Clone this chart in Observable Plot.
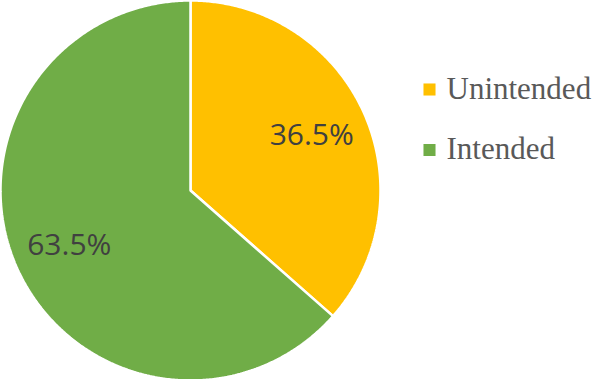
<!DOCTYPE html>
<html>
<head>
<meta charset="utf-8">
<script src="https://cdn.jsdelivr.net/npm/d3@7"></script>
<script src="https://cdn.jsdelivr.net/npm/@observablehq/plot@0.6"></script>
<style>
  html, body { margin: 0; padding: 0; background: #fff; }
  #chart svg { overflow: visible; }
  g[aria-label="legend-text"], g[aria-label="legend-text"] text { font-family: "Liberation Serif", "Times New Roman", serif !important; }
</style>
</head>
<body>
<div id="chart"></div>
<script>
const categories = ["Unintended", "Intended"];
const shares = [36.5, 63.5];
const colors = ["#FFC000", "#70AD47"];

const total = d3.sum(shares);
let acc = 0;
const slices = categories.map((c, i) => {
  const a0 = acc / total * 2 * Math.PI;
  acc += shares[i];
  const a1 = acc / total * 2 * Math.PI;
  return {c, v: shares[i], a0, a1, mid: (a0 + a1) / 2};
});

const points = [];
for (const s of slices) {
  points.push({c: s.c, x: 0, y: 0});
  const n = Math.max(2, Math.ceil((s.a1 - s.a0) / (Math.PI / 360)));
  for (let k = 0; k <= n; k++) {
    const a = s.a0 + (s.a1 - s.a0) * k / n;
    points.push({c: s.c, x: Math.sin(a), y: Math.cos(a)});
  }
}

const chart = Plot.plot({
  width: 594,
  height: 379,
  marginLeft: 0,
  marginRight: 214,
  marginTop: 0,
  marginBottom: 0,
  x: {domain: [-1, 1], range: [0, 380], axis: null},
  y: {domain: [-1, 1], range: [380, 0], axis: null},
  color: {domain: categories, range: colors},
  marks: [
    Plot.line(points, {x: "x", y: "y", z: "c", fill: "c", stroke: "white", strokeWidth: 2.5, strokeLinejoin: "miter", curve: "linear-closed"}),
    Plot.text(slices, {
      x: d => 0.7 * Math.sin(d.mid),
      y: d => 0.7 * Math.cos(d.mid),
      text: d => d.v.toFixed(1) + "%",
      fontSize: 30,
      fontFamily: "Open Sans",
      fill: "#404040"
    }),
    ...categories.map((c, i) => Plot.dot([c], {
      frameAnchor: "top-left", dx: 429, dy: 89 + 60.5 * i,
      symbol: "square", r: 6.8, fill: d => d, stroke: null
    })),
    ...categories.map((c, i) => Plot.text([c], {
      frameAnchor: "top-left", dx: 446, dy: 98 + 60 * i,
      text: d => d, textAnchor: "start", lineAnchor: "bottom",
      fontSize: 31, fontFamily: "Liberation Serif", fill: "#595959",
      ariaLabel: "legend-text"
    }))
  ]
});
d3.select(chart).selectAll('g[aria-label="legend-text"] text')
  .style("font-family", "'Liberation Serif', 'Times New Roman', serif");
document.getElementById("chart").append(chart);
</script>
</body>
</html>
